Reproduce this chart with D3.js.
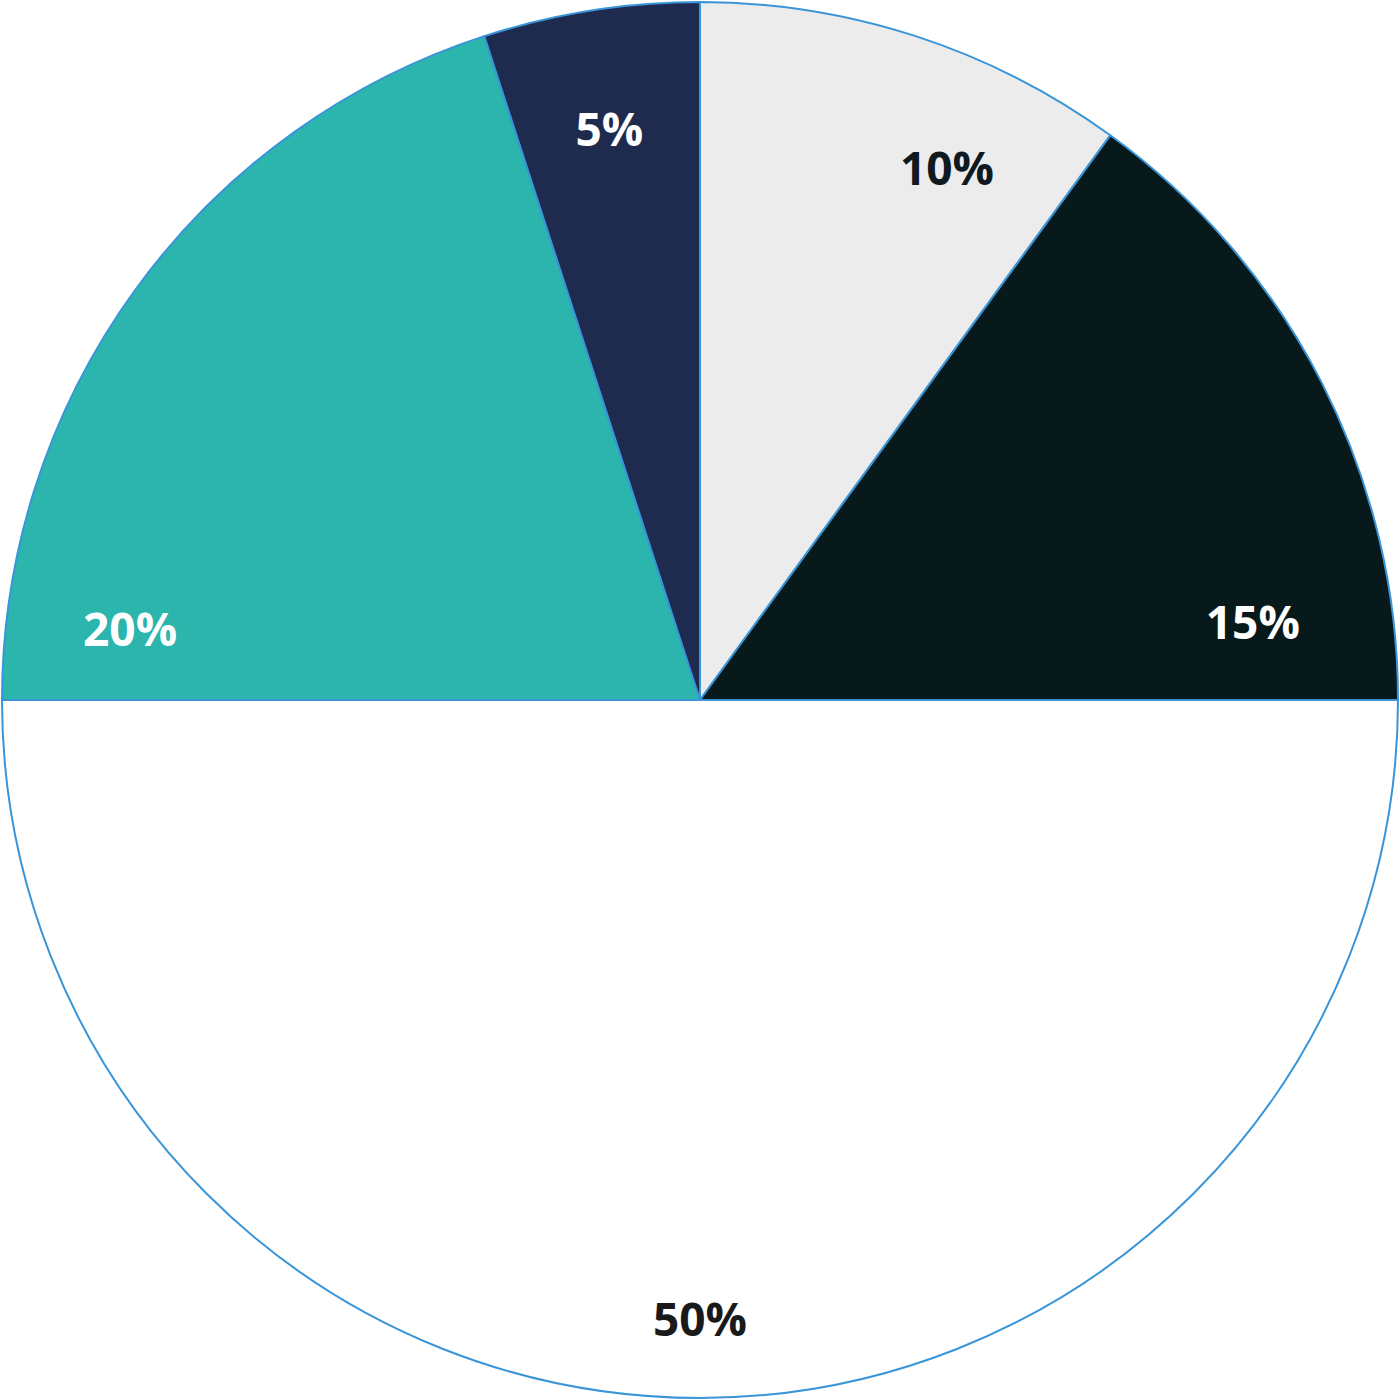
<!DOCTYPE html>
<html>
<head>
<meta charset="utf-8">
<script src="https://cdn.jsdelivr.net/npm/d3@7"></script>
<style>
  html, body { margin: 0; padding: 0; background: #ffffff; }
  svg { display: block; }
</style>
</head>
<body>
<svg id="chart" width="1400" height="1400"></svg>
<script>
// ---- data ----
const categories = ["A", "B", "C", "D", "E"];
const values = [10, 15, 50, 20, 5];
const labels = ["10%", "15%", "50%", "20%", "5%"];

// ---- styling / layout (kept separate from data) ----
const fills = ["#ececec", "#08191c", "#ffffff", "#2bb5ac", "#1f2a4f"];
const textColors = ["#0e1a1f", "#ffffff", "#1a1a1a", "#ffffff", "#ffffff"];
// relative position of each label along its slice (0 = start angle, 1 = end angle) and radius fraction
const labelAlong = [0.69, 0.85, 0.5, 0.1, 0.5];
const labelRadius = [0.842, 0.80, 0.885, 0.823, 0.83];

const W = 1400, H = 1400, cx = 700, cy = 700, R = 698;
const svg = d3.select("#chart");
const g = svg.append("g").attr("transform", `translate(${cx},${cy})`);

const pie = d3.pie().sort(null).value(d => d.value);
const data = categories.map((c, i) => ({ cat: c, value: values[i], label: labels[i], i }));
const arcs = pie(data);
const arc = d3.arc().innerRadius(0).outerRadius(R);

g.selectAll("path.slice")
  .data(arcs)
  .join("path")
  .attr("class", "slice")
  .attr("d", arc)
  .attr("fill", d => fills[d.data.i])
  .attr("stroke", "#3a95d8")
  .attr("stroke-width", 2)
  .attr("stroke-linejoin", "round");

g.selectAll("text.lbl")
  .data(arcs)
  .join("text")
  .attr("class", "lbl")
  .attr("transform", d => {
    const i = d.data.i;
    const a = d.startAngle + (d.endAngle - d.startAngle) * labelAlong[i];
    const r = R * labelRadius[i];
    return `translate(${r * Math.sin(a)},${-r * Math.cos(a)})`;
  })
  .attr("text-anchor", "middle")
  .attr("dominant-baseline", "central")
  .attr("font-family", "'Open Sans', sans-serif")
  .attr("font-weight", 700)
  .attr("font-size", 46)
  .attr("fill", d => textColors[d.data.i])
  .text(d => d.data.label);
</script>
</body>
</html>
